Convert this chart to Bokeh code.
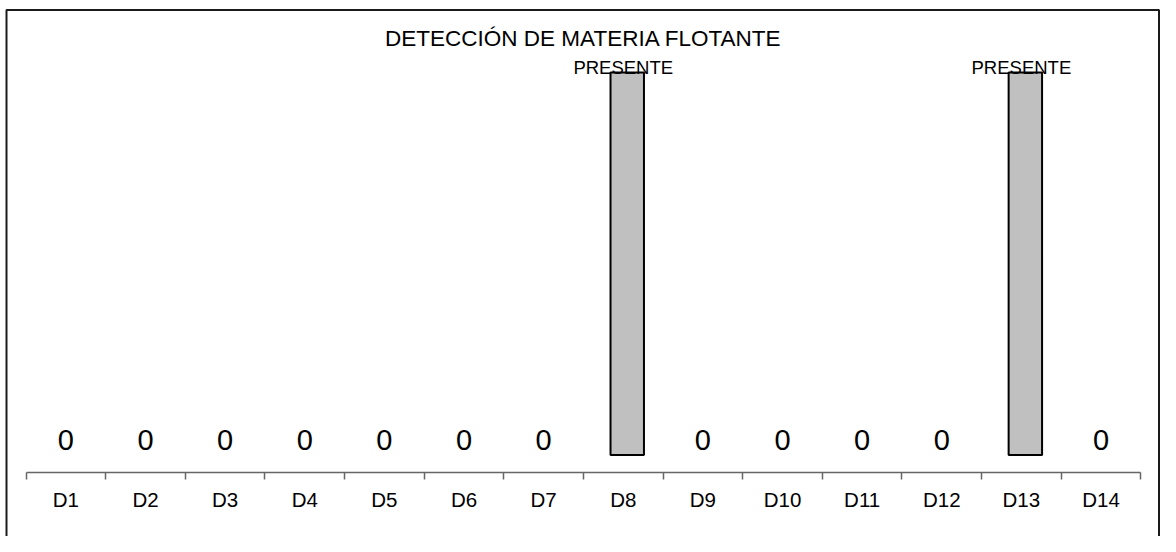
from bokeh.plotting import figure
from bokeh.models import Range1d, FixedTicker, BoxAnnotation
from bokeh.core.properties import value
from bokeh.embed import file_html
from bokeh.resources import INLINE

# ---- data ----
categories = ["D1", "D2", "D3", "D4", "D5", "D6", "D7",
              "D8", "D9", "D10", "D11", "D12", "D13", "D14"]
values = [0, 0, 0, 0, 0, 0, 0, 1, 0, 0, 0, 0, 1, 0]
present_label = "PRESENTE"
absent_label = "0"
title_text = "DETECCIÓN DE MATERIA FLOTANTE"

FONT = "Liberation Sans"

xs = list(range(len(categories)))
bar_x = [x + 0.05 for x, v in zip(xs, values) if v > 0]
bar_top = [v for v in values if v > 0]
pres_x = [x for x, v in zip(xs, values) if v > 0]
pres_y = [v for v in values if v > 0]
zero_x = [x for x, v in zip(xs, values) if v == 0]
zero_y = [v for v in values if v == 0]

# ---- layout (canvas pixels -> range units) ----
W, H = 1160, 536
XS, XE = -0.8215, len(categories) - 0.5 + 0.2474
YS, YE = -0.2133, 1.188


def x_at(px):
    return XS + px / W * (XE - XS)


def y_at(py):
    return YE - py / H * (YE - YS)


p = figure(width=W, height=H, output_backend="svg", toolbar_location=None,
           x_range=Range1d(XS, XE), y_range=Range1d(YS, YE),
           y_axis_location=None,
           min_border_left=0, min_border_right=0,
           min_border_top=0, min_border_bottom=0)
p.title.visible = False
p.outline_line_color = None
p.xgrid.visible = False
p.ygrid.visible = False
p.background_fill_color = "white"
p.border_fill_color = "white"

# chart-area border (open at the bottom, as in the reference)
p.add_layout(BoxAnnotation(left=x_at(6), right=x_at(W - 1.5),
                           top=y_at(9.5), bottom=YS - 1,
                           fill_color=None, fill_alpha=0,
                           line_color="#1a1a1a", line_alpha=1.0,
                           line_width=2, level="overlay"))

ax = p.xaxis[0]
ax.fixed_location = y_at(471.9)
ax.bounds = (xs[0] - 0.5, xs[-1] + 0.5)
ax.ticker = FixedTicker(ticks=xs, minor_ticks=[x - 0.5 for x in xs] + [xs[-1] + 0.5])
ax.major_label_overrides = {x: c for x, c in zip(xs, categories)}
ax.major_tick_out = 0
ax.major_tick_in = 0
ax.minor_tick_out = 7
ax.minor_tick_in = 0
ax.minor_tick_line_color = "#666666"
ax.minor_tick_line_width = 1.5
ax.axis_line_color = "#666666"
ax.axis_line_width = 1.5
ax.major_label_standoff = 9
ax.major_label_text_font = FONT
ax.major_label_text_font_size = "20.5px"
ax.major_label_text_color = "black"

p.vbar(x=bar_x, top=bar_top, bottom=0, width=0.42,
       fill_color="#C0C0C0", line_color="black", line_width=2)

p.text(x=zero_x, y=zero_y, text=[absent_label] * len(zero_x),
       text_font=value(FONT), text_font_size="29px", text_color="black",
       text_align="center", text_baseline="alphabetic", y_offset=-15)

p.text(x=pres_x, y=pres_y, text=[present_label] * len(pres_x),
       text_font=value(FONT), text_font_size="18.5px", text_color="black",
       text_align="center", text_baseline="alphabetic", y_offset=-5)

# chart title
p.text(x=[(xs[0] + xs[-1]) / 2], y=[y_at(46.6)], text=[title_text],
       text_font=value(FONT), text_font_size="22.5px", text_color="black",
       text_align="center", text_baseline="alphabetic", y_offset=-9)

open("out.html", "w").write(file_html(p, INLINE))
